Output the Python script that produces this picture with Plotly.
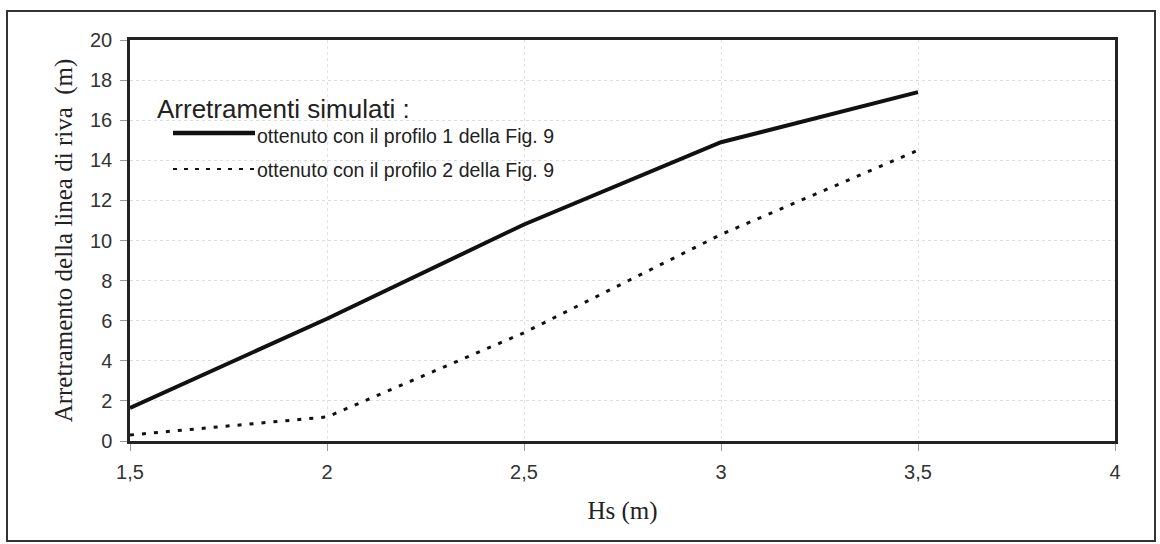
import plotly.graph_objects as go

hs = [1.5, 2.0, 2.5, 3.0, 3.5]
profilo1 = [1.65, 6.1, 10.8, 14.9, 17.4]
profilo2 = [0.3, 1.2, 5.4, 10.3, 14.5]

x_ticks = [1.5, 2, 2.5, 3, 3.5, 4]
x_tick_labels = ["1,5", "2", "2,5", "3", "3,5", "4"]
y_ticks = list(range(0, 21, 2))

legend_title = "Arretramenti simulati :"
names = ["ottenuto con il profilo 1 della Fig. 9", "ottenuto con il profilo 2 della Fig. 9"]

fig = go.Figure()
fig.add_trace(go.Scatter(x=hs, y=profilo1, mode="lines", name=names[0],
                         line=dict(color="#111111", width=4), showlegend=False))
fig.add_trace(go.Scatter(x=hs, y=profilo2, mode="lines", name=names[1],
                         line=dict(color="#111111", width=3, dash="4px,8px"), showlegend=False))

L, R, T, B = 130, 45, 40, 103
W, H = 1160, 544
pw, ph = W - L - R, H - T - B

def px(xp):
    return (xp - L) / pw

def py(yp):
    return (H - B - yp) / ph

# outer frame
fig.add_shape(type="rect", xref="paper", yref="paper",
              x0=px(7), x1=px(1155), y0=py(541), y1=py(11),
              line=dict(color="#333333", width=2), layer="below")

# manual legend
sans = "Liberation Sans, Arial, sans-serif"
serif = "Liberation Serif, Times New Roman, serif"
fig.add_annotation(xref="paper", yref="paper", x=px(155), y=py(109), text=legend_title,
                   showarrow=False, xanchor="left", yanchor="middle",
                   font=dict(family=sans, size=26, color="#222222"))
fig.add_shape(type="line", xref="paper", yref="paper", x0=px(173), x1=px(255),
              y0=py(133), y1=py(133), line=dict(color="#111111", width=4.5))
fig.add_shape(type="line", xref="paper", yref="paper", x0=px(173), x1=px(255),
              y0=py(169), y1=py(169), line=dict(color="#111111", width=2, dash="4px,7px"))
for yy, nm in zip([136, 170], names):
    fig.add_annotation(xref="paper", yref="paper", x=px(255), y=py(yy), text=nm,
                       showarrow=False, xanchor="left", yanchor="middle",
                       font=dict(family=sans, size=19.5, color="#222222"))

axis_font = dict(family=sans, size=20, color="#333333")
title_font = dict(family=serif, size=25, color="#222222")

fig.update_xaxes(range=[1.5, 4], tickvals=x_ticks, ticktext=x_tick_labels,
                 showline=True, linecolor="#222222", linewidth=2.5, mirror=True,
                 ticks="outside", ticklen=7, tickcolor="#999999",
                 showgrid=True, gridcolor="#e2e2e2", griddash="dot", gridwidth=1,
                 zeroline=False, tickfont=axis_font, ticklabelstandoff=4,
                 title=dict(text="Hs (m)", font=title_font, standoff=20))
fig.update_yaxes(range=[0, 20], tickvals=y_ticks,
                 showline=True, linecolor="#222222", linewidth=2.5, mirror=True,
                 ticks="outside", ticklen=7, tickcolor="#999999",
                 showgrid=True, gridcolor="#dddddd", griddash="dot", gridwidth=1,
                 zeroline=False, tickfont=axis_font, ticklabelstandoff=4,
                 title=dict(text="Arretramento della linea di riva  (m)", font=title_font, standoff=11))

fig.update_layout(width=W, height=H, margin=dict(l=L, r=R, t=T, b=B),
                  paper_bgcolor="white", plot_bgcolor="white", showlegend=False)

fig.write_html("out.html", config={"displayModeBar": False},
               post_script="document.body.style.margin='0px';")
